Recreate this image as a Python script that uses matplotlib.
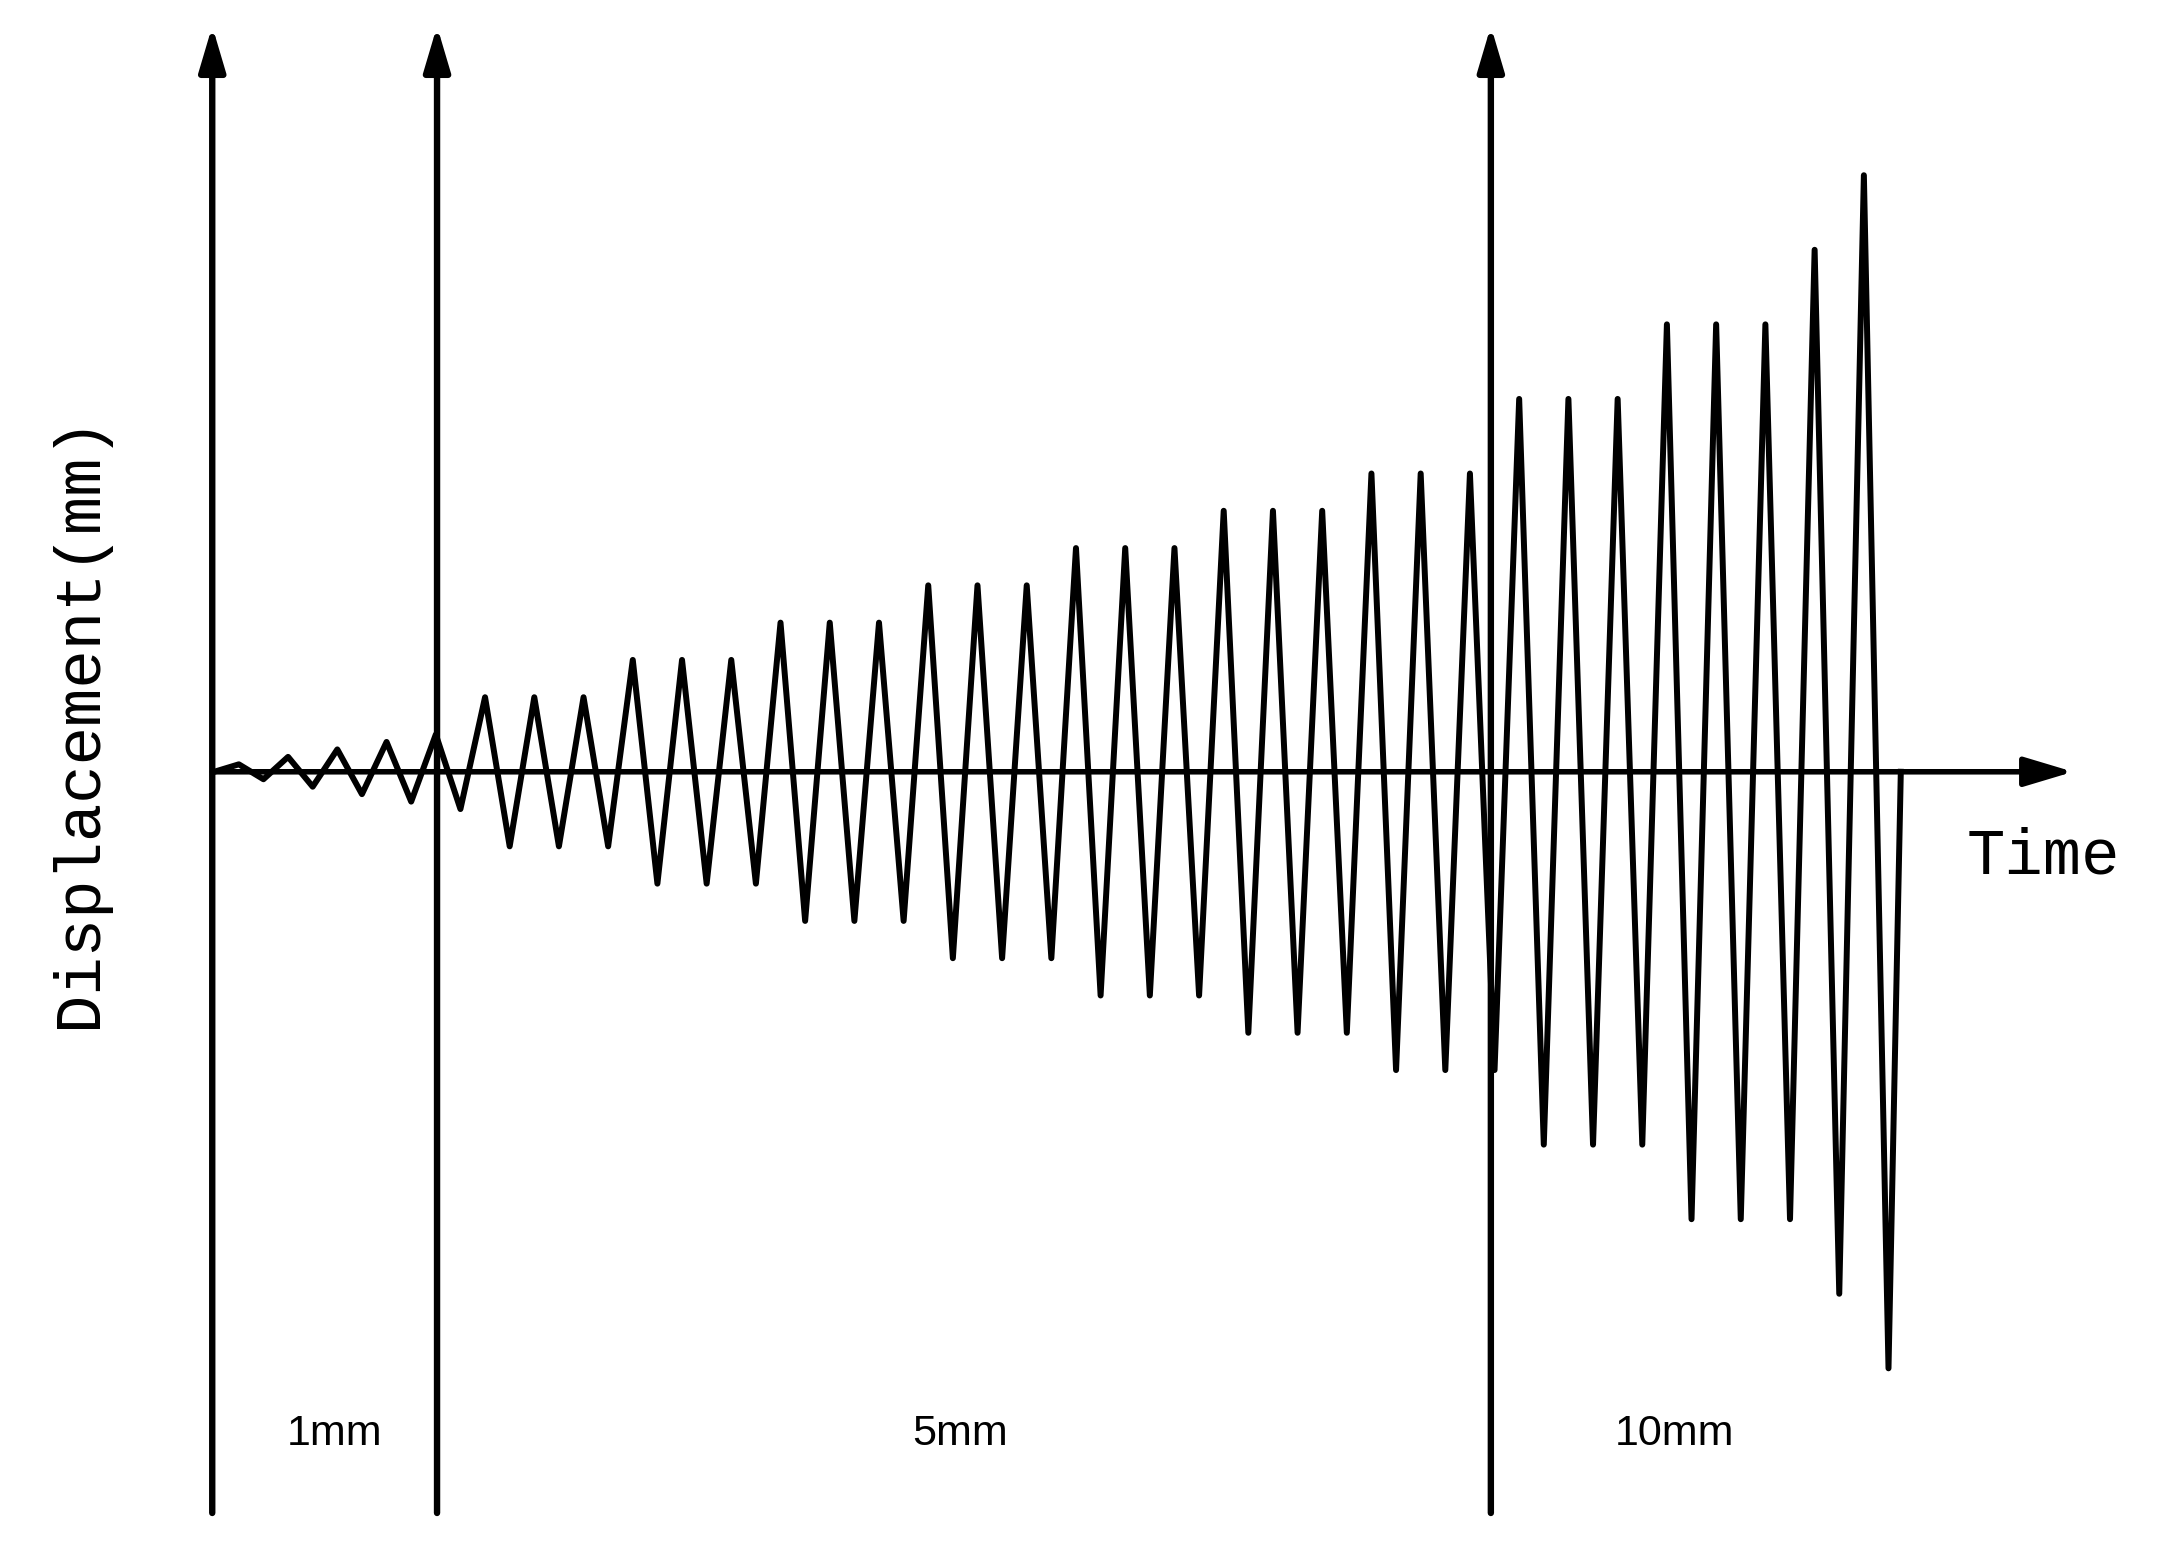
import matplotlib.pyplot as plt

# amplitude of each loading cycle (mm), one entry per cycle
stage1_amps = [1, 2, 3, 4, 5]
stage2_amps = [10, 10, 10, 15, 15, 15, 20, 20, 20, 25, 25, 25,
               30, 30, 30, 35, 35, 35, 40, 40, 40]
stage3_amps = [50, 50, 50, 60, 60, 60, 70, 80]

stage_labels = ['1mm', '5mm', '10mm']
stage_label_x = [4.9, 30.3, 59.3]
divider_t = [-0.08, 9.05, 51.85]


def build_history(amps):
    t = [0]
    y = [0]
    for a in amps:
        t.append(t[-1] + 1)
        y.append(a)
        t.append(t[-1] + 1)
        y.append(-a)
    # back to zero in half a step
    t.append(t[-1] + 0.5)
    y.append(0)
    return t, y


amps = stage1_amps + stage2_amps + stage3_amps
t, disp = build_history(amps)

fig = plt.figure(figsize=(21.65, 15.54), dpi=100)
ax = fig.add_axes([0, 0, 1, 1])
ax.set_xlim(-8.70, 79.23)
ax.set_ylim(-104.9, 103.5)
ax.axis('off')

# zigzag history
ax.plot(t, disp, color='black', lw=4.3, solid_joinstyle='round', zorder=3)

# horizontal time axis with arrow
ax.annotate('', xy=(75.5, 0), xytext=(divider_t[0], 0),
            arrowprops=dict(arrowstyle='-|>,head_length=1.5,head_width=0.45',
                            mutation_scale=20, lw=4.0, color='black',
                            shrinkA=0, shrinkB=0), zorder=2)

# vertical stage dividers with arrows
for x in divider_t:
    ax.annotate('', xy=(x, 100.0), xytext=(x, -99.4),
                arrowprops=dict(arrowstyle='-|>,head_length=1.35,head_width=0.4',
                                mutation_scale=20, lw=4.6, color='black',
                                shrinkA=0, shrinkB=0), zorder=2)

for lab, x in zip(stage_labels, stage_label_x):
    ax.text(x, -88.8, lab, ha='center', va='center', fontsize=31,
            family='Liberation Sans')

ax.text(74.3, -11.4, 'Time', ha='center', va='center', fontsize=46,
        family='Liberation Mono')
ax.text(-5.5, 6.8, 'Displacement(mm)', ha='center', va='center', fontsize=46,
        rotation=90, family='Liberation Mono')

fig.savefig('out.png', dpi=100, facecolor='white')
